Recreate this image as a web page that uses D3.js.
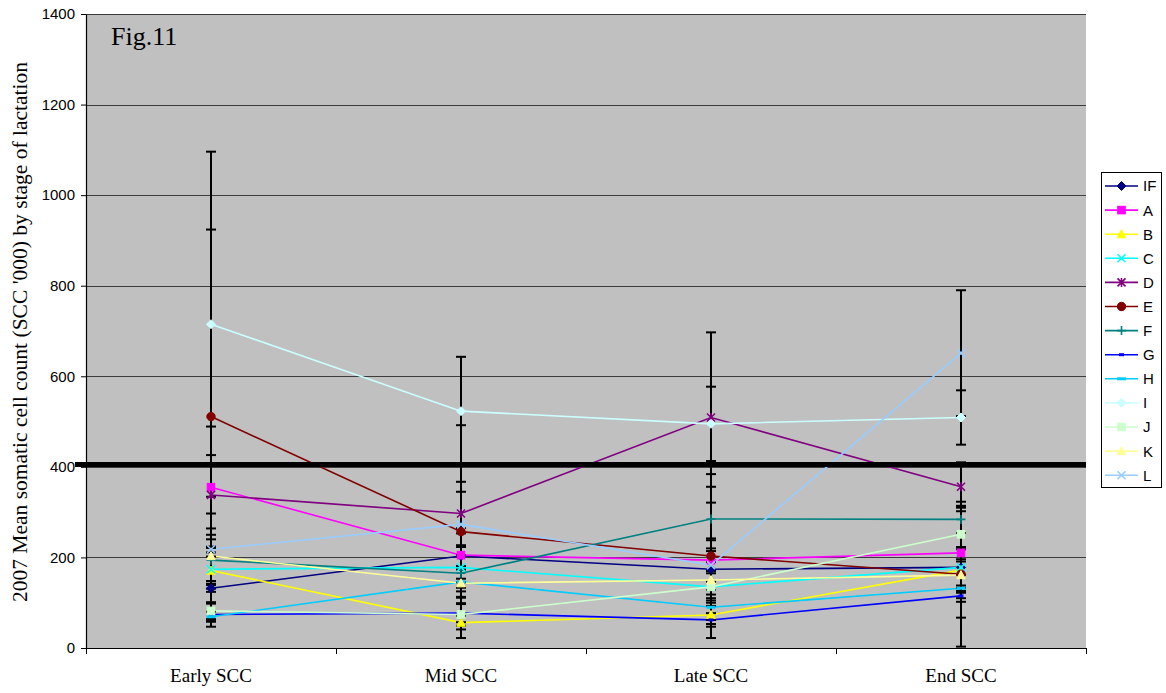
<!DOCTYPE html>
<html>
<head>
<meta charset="utf-8">
<script src="https://cdn.jsdelivr.net/npm/d3@7"></script>
<style>
  body { margin: 0; background: #ffffff; }
  svg { display: block; }
</style>
</head>
<body>
<svg id="chart" width="1166" height="693"></svg>
<script>
// Stages of lactation on the x axis
const categories = ["Early SCC", "Mid SCC", "Late SCC", "End SCC"];

// Mean SCC ('000) per herd at each stage
const meanIF = [132, 203, 174, 178];
const meanA  = [355, 205, 194, 210];
const meanB  = [171,  56,  73, 172];
const meanC  = [174, 178, 135, 178];
const meanD  = [338, 297, 509, 356];
const meanE  = [511, 257, 203, 163];
const meanF  = [194, 165, 285, 284];
const meanG  = [ 74,  77,  62, 115];
const meanH  = [ 69, 146,  90, 132];
const meanI  = [715, 523, 495, 509];
const meanJ  = [ 82,  74, 135, 251];
const meanK  = [203, 143, 150, 161];
const meanL  = [218, 273, 183, 651];

// Standard deviations used for the error bars
const sdIF = [ 70,  50,  46,  40];
const sdA  = [134,  60,  48, 100];
const sdB  = [ 40,  15,  20,  50];
const sdC  = [ 50,  45,  30,  45];
const sdD  = [ 88,  70, 188,  54];
const sdE  = [413, 235, 181, 160];
const sdF  = [ 46,  40,  71,  30];
const sdG  = [ 27,  20,  15,  48];
const sdH  = [ 11,  35,  28,  30];
const sdI  = [381, 120,  82,  60];
const sdJ  = [ 18,  25,  35,  60];
const sdK  = [ 61,  30,  40,  35];
const sdL  = [ 79,  72,  55, 139];

const seriesNames   = ["IF", "A", "B", "C", "D", "E", "F", "G", "H", "I", "J", "K", "L"];
const seriesColors  = ["#000080", "#ff00ff", "#ffff00", "#00ffff", "#800080", "#800000",
                       "#008080", "#0000ff", "#00ccff", "#ccffff", "#ccffcc", "#ffff99", "#99ccff"];
const seriesMarkers = ["diamond", "square", "triangle", "cross", "star", "circle",
                       "plus", "dash", "bar", "diamond", "square", "triangle", "cross"];

const yTicks = [0, 200, 400, 600, 800, 1000, 1200, 1400];
const thresholdValue = 405;

const means = [meanIF, meanA, meanB, meanC, meanD, meanE, meanF, meanG, meanH, meanI, meanJ, meanK, meanL];
const sds   = [sdIF, sdA, sdB, sdC, sdD, sdE, sdF, sdG, sdH, sdI, sdJ, sdK, sdL];

const series = seriesNames.map((name, i) => ({
  name,
  color: seriesColors[i],
  marker: seriesMarkers[i],
  points: categories.map((c, j) => ({ cat: c, value: means[i][j], sd: sds[i][j] }))
}));

const svg = d3.select("#chart");
const plot = { left: 86, top: 14, right: 1086, bottom: 648 };

const x = d3.scalePoint().domain(categories).range([plot.left, plot.right]).padding(0.5);
const y = d3.scaleLinear().domain([0, 1400]).range([plot.bottom, plot.top]);

const SANS = "'Liberation Sans', Arial, sans-serif";
const SERIF = "'Liberation Serif', 'Times New Roman', serif";

// Plot area
svg.append("rect")
  .attr("x", plot.left).attr("y", plot.top)
  .attr("width", plot.right - plot.left).attr("height", plot.bottom - plot.top)
  .attr("fill", "#c0c0c0");

// Horizontal gridlines
svg.append("g")
  .selectAll("line")
  .data(yTicks.filter(d => d > 0))
  .join("line")
  .attr("x1", plot.left).attr("x2", plot.right)
  .attr("y1", d => Math.round(y(d)) + 0.5).attr("y2", d => Math.round(y(d)) + 0.5)
  .attr("stroke", "#3c3c3c").attr("stroke-width", 1);

// Y axis
const yAxis = svg.append("g")
  .attr("transform", `translate(${plot.left},0)`)
  .call(d3.axisLeft(y).tickValues(yTicks).tickFormat(d3.format("d"))
    .tickSize(5).tickPadding(6).tickSizeOuter(0));
yAxis.select(".domain").attr("stroke", "#000").attr("stroke-width", 1.2);
yAxis.selectAll(".tick line").attr("stroke", "#000");
yAxis.selectAll(".tick text")
  .attr("font-family", SANS).attr("font-size", 15).attr("fill", "#000");

// X axis baseline and boundary ticks
svg.append("line")
  .attr("x1", plot.left).attr("x2", plot.right)
  .attr("y1", plot.bottom + 0.5).attr("y2", plot.bottom + 0.5)
  .attr("stroke", "#000").attr("stroke-width", 1.2);
const step = x.step();
svg.append("g")
  .selectAll("line")
  .data(d3.range(categories.length + 1))
  .join("line")
  .attr("x1", i => plot.left + i * step + 0.5).attr("x2", i => plot.left + i * step + 0.5)
  .attr("y1", plot.bottom).attr("y2", plot.bottom + 6)
  .attr("stroke", "#000");

svg.append("g")
  .selectAll("text")
  .data(categories)
  .join("text")
  .attr("x", d => x(d)).attr("y", 682)
  .attr("text-anchor", "middle")
  .attr("font-family", SERIF).attr("font-size", 19)
  .text(d => d);

// Y axis title
svg.append("text")
  .attr("transform", `translate(20,332) rotate(-90)`)
  .attr("text-anchor", "middle")
  .attr("dominant-baseline", "central")
  .attr("font-family", SERIF).attr("font-size", 21.5)
  .text("2007 Mean somatic cell count (SCC '000) by stage of lactation");

// Figure label
svg.append("text")
  .attr("x", 111).attr("y", 45)
  .attr("font-family", SERIF).attr("font-size", 26)
  .text("Fig.11");

// Series lines
const line = d3.line().x(d => x(d.cat)).y(d => y(d.value));
svg.append("g")
  .selectAll("path")
  .data(series)
  .join("path")
  .attr("d", s => line(s.points))
  .attr("fill", "none")
  .attr("stroke", s => s.color)
  .attr("stroke-width", 1.6);

// Error bars (mean ± SD)
const eb = svg.append("g").attr("stroke", "#000").attr("stroke-width", 2);
series.forEach(s => {
  s.points.forEach(p => {
    const cx = x(p.cat);
    const lo = y(Math.max(0, p.value - p.sd));
    const hi = y(p.value + p.sd);
    eb.append("line").attr("x1", cx).attr("x2", cx).attr("y1", lo).attr("y2", hi);
    eb.append("line").attr("x1", cx - 5).attr("x2", cx + 5).attr("y1", hi).attr("y2", hi);
    eb.append("line").attr("x1", cx - 5).attr("x2", cx + 5).attr("y1", lo).attr("y2", lo);
  });
});

// Reference line across the plot
svg.append("line")
  .attr("x1", 75).attr("x2", plot.right)
  .attr("y1", y(thresholdValue)).attr("y2", y(thresholdValue))
  .attr("stroke", "#000").attr("stroke-width", 5);

// Marker drawing
function drawMarker(g, type, color) {
  switch (type) {
    case "diamond":
      g.append("path").attr("d", "M0,-4.5L4.5,0L0,4.5L-4.5,0Z").attr("fill", color).attr("stroke", color);
      break;
    case "square":
      g.append("rect").attr("x", -3.8).attr("y", -3.8).attr("width", 7.6).attr("height", 7.6)
        .attr("fill", color).attr("stroke", color);
      break;
    case "triangle":
      g.append("path").attr("d", "M0,-4.5L4.3,3.6L-4.3,3.6Z").attr("fill", color).attr("stroke", color);
      break;
    case "cross":
      g.append("path").attr("d", "M-4,-4L4,4M-4,4L4,-4").attr("stroke", color).attr("stroke-width", 1.6).attr("fill", "none");
      break;
    case "star":
      g.append("path").attr("d", "M-4,-4L4,4M-4,4L4,-4M0,-4.5L0,4.5").attr("stroke", color).attr("stroke-width", 1.6).attr("fill", "none");
      break;
    case "circle":
      g.append("circle").attr("r", 4.2).attr("fill", color).attr("stroke", color);
      break;
    case "plus":
      g.append("path").attr("d", "M-4.5,0L4.5,0M0,-4.5L0,4.5").attr("stroke", color).attr("stroke-width", 1.6).attr("fill", "none");
      break;
    case "dash":
      g.append("rect").attr("x", -2.5).attr("y", -1.5).attr("width", 5).attr("height", 3).attr("fill", color);
      break;
    case "bar":
      g.append("rect").attr("x", -4.5).attr("y", -1.5).attr("width", 9).attr("height", 3).attr("fill", color);
      break;
  }
}

series.forEach(s => {
  s.points.forEach(p => {
    const g = svg.append("g").attr("transform", `translate(${x(p.cat)},${y(p.value)})`);
    drawMarker(g, s.marker, s.color);
  });
});

// Legend
const legend = svg.append("g");
legend.append("rect")
  .attr("x", 1101.5).attr("y", 172.5).attr("width", 60).attr("height", 315)
  .attr("fill", "#fff").attr("stroke", "#000").attr("stroke-width", 1);
series.forEach((s, i) => {
  const cy = 186 + i * 24.1;
  legend.append("line")
    .attr("x1", 1105).attr("x2", 1138).attr("y1", cy).attr("y2", cy)
    .attr("stroke", s.color).attr("stroke-width", 1.6);
  const g = legend.append("g").attr("transform", `translate(1121.5,${cy})`);
  drawMarker(g, s.marker, s.color);
  legend.append("text")
    .attr("x", 1143).attr("y", cy).attr("dy", "0.36em")
    .attr("font-family", SANS).attr("font-size", 15)
    .text(s.name);
});
</script>
</body>
</html>
